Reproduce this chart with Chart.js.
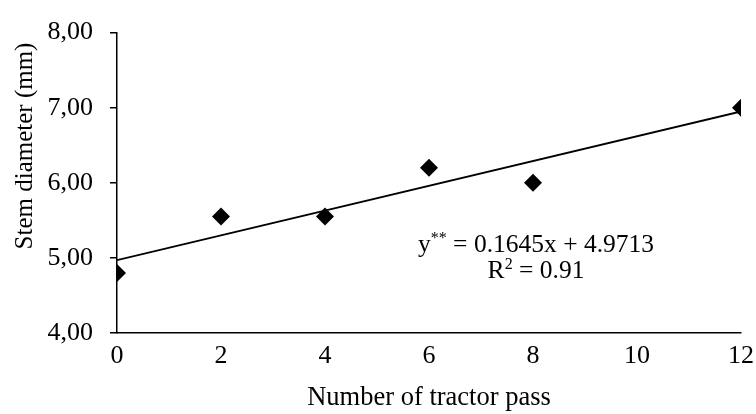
<!DOCTYPE html>
<html>
<head>
<meta charset="utf-8">
<script src="https://cdn.jsdelivr.net/npm/chart.js@4/dist/chart.umd.min.js"></script>
<style>
  html, body { margin: 0; padding: 0; background: #fff; }
  #wrap { width: 756px; height: 414px; position: relative; }
</style>
</head>
<body>
<div id="wrap"><canvas id="chart"></canvas></div>
<script>
/* -------- Data -------- */
const passes = [0, 2, 4, 6, 8, 12];
const stemDiameter = [4.80, 5.55, 5.55, 6.20, 6.00, 7.00];
const trendX = [0, 12];
const trendY = [4.97, 6.95];
const xTicks = [0, 2, 4, 6, 8, 10, 12];
const yTicks = [4, 5, 6, 7, 8];

const FONT = "'Liberation Serif', 'Times New Roman', serif";

/* ---------- Text drawn on the canvas (y title + equation) ---------- */
function drawSup(ctx, parts, cx, y) {
  // parts: [text, isSup]
  const big = "25.5px " + FONT, small = "16px " + FONT;
  const widths = parts.map(([t, sup]) => { ctx.font = sup ? small : big; return ctx.measureText(t).width; });
  let x = cx - widths.reduce((a, b) => a + b, 0) / 2;
  parts.forEach(([t, sup], i) => {
    ctx.font = sup ? small : big;
    ctx.fillText(t, x, sup ? y - 9 : y);
    x += widths[i];
  });
}

const textPlugin = {
  id: "extraText",
  afterDraw(chart) {
    const ctx = chart.ctx;
    ctx.save();
    ctx.fillStyle = "#000";
    ctx.textBaseline = "alphabetic";

    // y axis title
    ctx.save();
    ctx.translate(32, 146);
    ctx.rotate(-Math.PI / 2);
    ctx.textAlign = "center";
    ctx.font = "25px " + FONT;
    ctx.fillText("Stem diameter (mm)", 0, 0);
    ctx.restore();

    ctx.textAlign = "left";
    drawSup(ctx, [["y", false], ["**", true], [" = 0.1645x + 4.9713", false]], 536, 252);
    drawSup(ctx, [["R", false], ["2", true], [" = 0.91", false]], 536, 278);

    ctx.restore();
  }
};

new Chart(document.getElementById("chart"), {
  type: "scatter",
  data: {
    datasets: [
      {
        label: "Stem diameter",
        data: passes.map((p, i) => ({ x: p, y: stemDiameter[i] })),
        pointStyle: "rectRot",
        pointRadius: 9,
        pointHoverRadius: 9,
        backgroundColor: "#000",
        borderColor: "#000",
        borderWidth: 0,
        showLine: false,
        order: 1
      },
      {
        label: "Trend",
        data: trendX.map((p, i) => ({ x: p, y: trendY[i] })),
        showLine: true,
        borderColor: "#000",
        borderWidth: 1.8,
        pointRadius: 0,
        fill: false,
        order: 2
      }
    ]
  },
  options: {
    responsive: true,
    maintainAspectRatio: false,
    animation: false,
    layout: { padding: { top: 28, right: 14, left: 0, bottom: 0 } },
    plugins: { legend: { display: false }, tooltip: { enabled: false } },
    scales: {
      x: {
        type: "linear",
        min: 0, max: 12,
        afterBuildTicks: s => { s.ticks = xTicks.map(v => ({ value: v })); },
        grid: { display: false, drawOnChartArea: false, drawTicks: true, tickLength: 6, color: "#000", lineWidth: 1.5 },
        border: { display: true, color: "#000", width: 1.5 },
        ticks: { color: "#000", font: { family: FONT, size: 26 }, padding: 2, maxRotation: 0 },
        title: { display: true, text: "Number of tractor pass", color: "#000", font: { family: FONT, size: 26.5 }, padding: { top: 0, bottom: 0 } },
        afterFit: s => { s.height = 81; }
      },
      y: {
        type: "linear",
        min: 4, max: 8,
        afterBuildTicks: s => { s.ticks = yTicks.map(v => ({ value: v })); },
        grid: { display: true, drawOnChartArea: false, drawTicks: true, tickLength: 7, color: "#000", lineWidth: 1.5 },
        border: { display: true, color: "#000", width: 1.5 },
        ticks: { color: "#000", font: { family: FONT, size: 26 }, padding: 17, callback: v => v.toFixed(2).replace(".", ",") },
        afterFit: s => { s.width = 117; }
      }
    }
  },
  plugins: [textPlugin]
});
</script>
</body>
</html>
